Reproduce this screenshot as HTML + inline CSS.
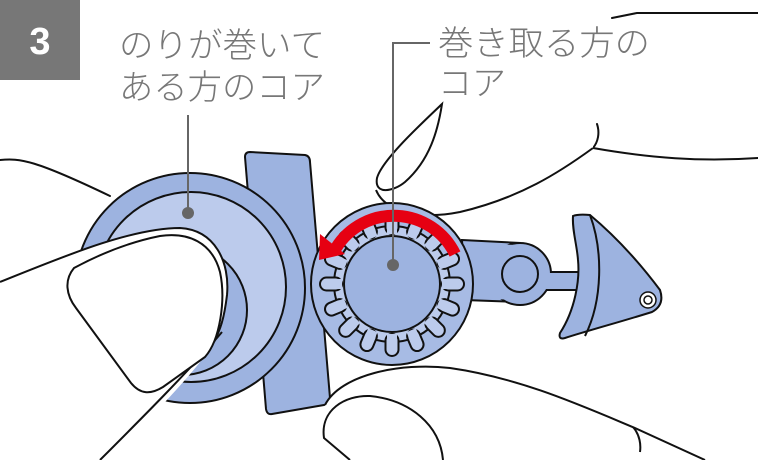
<!DOCTYPE html>
<html><head><meta charset="utf-8"><style>
html,body{margin:0;padding:0;background:#fff;}
svg{display:block;}
text{font-family:"Liberation Sans","Noto Sans CJK JP",sans-serif;}
</style></head><body>
<svg width="758" height="460" viewBox="0 0 758 460" xmlns="http://www.w3.org/2000/svg">
<g fill="none" stroke="#111" stroke-width="2" stroke-linejoin="round" stroke-linecap="round">
<path d="M612,18 L637,13 L758,13"/>
<path d="M597,124 C600,133 598,142 593,148 C650,158 700,162 758,158"/>
<path d="M0,160 C20,158 35,160 110,196"/>
</g>

<path d="M245,157 Q245,152 250,152 L305,155 Q310,156 310,162 L330,398 Q330,404 324,405 L272,414 Q267,415 266,409 Z" fill="#9db3e0" stroke="#111" stroke-width="2"/>

<circle cx="190" cy="288" r="115" fill="#9db3e0" stroke="#111" stroke-width="2"/>
<circle cx="191" cy="287" r="95" fill="#bccbec" stroke="#111" stroke-width="2"/>
<circle cx="182" cy="310" r="65" fill="#9db3e0" stroke="#111" stroke-width="2"/>

<path d="M0,282 C60,258 130,228 180,228 C215,230 230,262 227,295 C224,325 218,338 210,350 C170,400 130,440 100,460 L0,460 Z" fill="#fff" stroke="none"/>
<path d="M0,282 C60,258 130,228 180,228 C215,230 230,262 227,295 C224,320 220,330 214,342" fill="none" stroke="#111" stroke-width="2"/>
<path d="M222,332 C190,370 140,420 100,460" fill="none" stroke="#111" stroke-width="2"/>
<path d="M74,268 C64,280 66,295 76,308 L131,383 C140,394 150,395 163,387 L205,357 C220,340 226,300 220,272 C212,242 188,232 160,236 C130,242 100,254 74,268 Z" fill="#fff" stroke="#111" stroke-width="2"/>

<path d="M462,240 L520,243 L520,302 L465,300 Z" fill="#9db3e0" stroke="#111" stroke-width="2"/>
<path d="M540,272 L580,272 L580,290 L540,290 Z" fill="#9db3e0" stroke="#111" stroke-width="2"/>
<circle cx="520" cy="274" r="31" fill="#9db3e0" stroke="#111" stroke-width="2"/>
<path d="M466,244 L520,245 L520,300 L468,298 Z" fill="#9db3e0"/>
<path d="M545,273 L578,273 L578,289 L545,289 Z" fill="#9db3e0"/>
<circle cx="520" cy="274" r="18" fill="#9db3e0" stroke="#111" stroke-width="2"/>
<path d="M573,216 Q578,214 590,215 C620,240 645,270 660,290 Q665,305 652,312 C620,322 590,330 565,338 Q558,340 560,333 C575,310 580,280 578,260 C577,245 572,230 573,216 Z" fill="#9db3e0" stroke="#111" stroke-width="2"/>
<path d="M590,215 C603,250 603,300 585,336" fill="none" stroke="#111" stroke-width="2"/>
<circle cx="648" cy="300" r="8" fill="#fff" stroke="#111" stroke-width="1.5"/>
<circle cx="648" cy="300" r="4" fill="#fff" stroke="#111" stroke-width="1.5"/>

<path d="M376,190 C385,212 420,220 460,212 C520,198 560,172 593,148 L593,100 L442,100 L376,170 Z" fill="#fff"/>
<path d="M376,190 C385,212 420,220 460,212 C520,198 560,172 593,148" fill="none" stroke="#111" stroke-width="2"/>
<path d="M442,104 C420,125 382,160 377,178 C374,195 393,192 405,182 C430,160 438,130 442,104 Z" fill="#fff" stroke="#111" stroke-width="2"/>

<circle cx="392" cy="284" r="81" fill="#a7bbe4" stroke="#111" stroke-width="2"/>
<circle cx="392" cy="284" r="58" fill="#bccbec" stroke="#111" stroke-width="2"/>
<g transform="translate(392,284)">
<g id="t">
<rect x="-6.5" y="-72" width="13" height="22" rx="6.5" fill="#bccbec" stroke="#111" stroke-width="2"/>
<rect x="-5" y="-60" width="10" height="10" fill="#bccbec"/>
</g>
<use href="#t" transform="rotate(22.5)"/><use href="#t" transform="rotate(45)"/><use href="#t" transform="rotate(67.5)"/>
<use href="#t" transform="rotate(90)"/><use href="#t" transform="rotate(112.5)"/><use href="#t" transform="rotate(135)"/>
<use href="#t" transform="rotate(157.5)"/><use href="#t" transform="rotate(180)"/><use href="#t" transform="rotate(202.5)"/>
<use href="#t" transform="rotate(225)"/><use href="#t" transform="rotate(247.5)"/><use href="#t" transform="rotate(270)"/>
<use href="#t" transform="rotate(292.5)"/><use href="#t" transform="rotate(315)"/><use href="#t" transform="rotate(337.5)"/>
</g>
<circle cx="392" cy="284" r="48" fill="#9db3e0" stroke="#111" stroke-width="2"/>

<path d="M455,254 A68,68 0 0 0 336,248" fill="none" stroke="#e60012" stroke-width="12"/>
<path d="M319,260 L320,234 L345,254 Z" fill="#e60012"/>

<path d="M325,405 C340,375 400,362 450,368 C520,378 580,405 635,428 L705,460 L340,460 L322,440 Z" fill="#fff"/>
<path d="M325,405 C340,375 400,362 450,368 C520,378 580,405 635,428 L705,460" fill="none" stroke="#111" stroke-width="2"/>
<path d="M633,427 C640,435 641,445 640,452" fill="none" stroke="#111" stroke-width="2"/>
<path d="M350,460 L324,438 C320,410 345,395 370,396 C410,400 440,425 443,460" fill="none" stroke="#111" stroke-width="2"/>

<line x1="188" y1="115" x2="188" y2="213" stroke="#666" stroke-width="2"/>
<circle cx="188" cy="213" r="6" fill="#666"/>
<path d="M430,43 L393,43 L393,265" fill="none" stroke="#666" stroke-width="2"/>
<circle cx="393" cy="265" r="6" fill="#666"/>

<rect x="0" y="0" width="80" height="80" fill="#777"/>
<text x="40" y="54" font-size="38" font-weight="bold" fill="#fff" text-anchor="middle">3</text>

<g fill="#777" font-size="34" font-weight="300">
<text x="119" y="57" textLength="206" lengthAdjust="spacingAndGlyphs">のりが巻いて</text>
<text x="119" y="99" textLength="206" lengthAdjust="spacingAndGlyphs">ある方のコア</text>
<text x="438" y="55" textLength="212" lengthAdjust="spacingAndGlyphs">巻き取る方の</text>
<text x="438" y="95">コア</text>
</g>
</svg>
</body></html>
